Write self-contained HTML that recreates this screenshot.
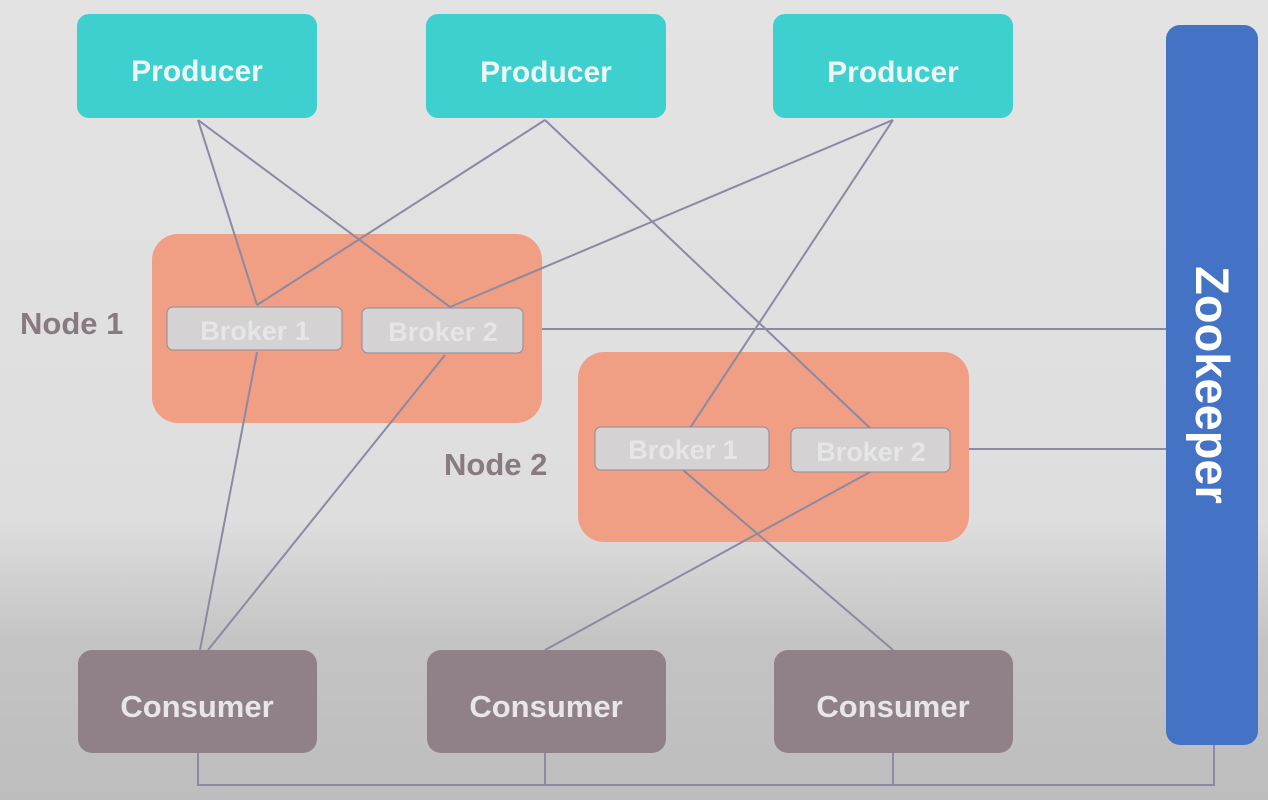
<!DOCTYPE html>
<html><head><style>
body{margin:0;width:1268px;height:800px;overflow:hidden;background:linear-gradient(#e3e3e3 0,#dedede 520px,#c4c4c4 640px,#bdbdbd 800px);}
svg{display:block}
text{font-family:"Liberation Sans",sans-serif;font-weight:bold}
</style></head><body>
<svg width="1268" height="800" viewBox="0 0 1268 800">
<rect x="152" y="234" width="390" height="189" rx="26" fill="#f09e84"/>
<rect x="578" y="352" width="391" height="190" rx="26" fill="#f09e84"/>
<g stroke="#8a8aa2" stroke-width="2" fill="none">
<line x1="198" y1="120" x2="257" y2="305"/>
<line x1="198" y1="120" x2="450" y2="307"/>
<line x1="545" y1="120" x2="257" y2="305"/>
<line x1="545" y1="120" x2="870" y2="428"/>
<line x1="893" y1="120" x2="450" y2="307"/>
<line x1="893" y1="120" x2="690" y2="428"/>
<line x1="257" y1="352" x2="200" y2="650"/>
<line x1="445" y1="355" x2="208" y2="650"/>
<line x1="683" y1="470" x2="893" y2="650"/>
<line x1="870" y1="472" x2="545" y2="650"/>
<line x1="542" y1="329" x2="1166" y2="329"/>
<line x1="969" y1="449" x2="1166" y2="449"/>
<polyline points="198,753 198,785 1214,785 1214,745"/>
<line x1="545" y1="753" x2="545" y2="785"/>
<line x1="893" y1="753" x2="893" y2="785"/>
</g>
<g fill="#3ecfcf">
<rect x="77" y="14" width="240" height="104" rx="12"/>
<rect x="426" y="14" width="240" height="104" rx="12"/>
<rect x="773" y="14" width="240" height="104" rx="12"/>
</g>
<g fill="#eef5f5" font-size="30" text-anchor="middle">
<text x="197" y="81">Producer</text>
<text x="546" y="82">Producer</text>
<text x="893" y="82">Producer</text>
</g>
<g fill="#d4d2d2" stroke="#8c8c9c" stroke-width="1">
<rect x="167" y="307" width="175" height="43" rx="6"/>
<rect x="362" y="308" width="161" height="45" rx="6"/>
<rect x="595" y="427" width="174" height="43" rx="6"/>
<rect x="791" y="428" width="159" height="44" rx="6"/>
</g>
<g fill="#e6e6e6" font-size="27" text-anchor="middle">
<text x="255" y="340">Broker 1</text>
<text x="443" y="341">Broker 2</text>
<text x="683" y="459">Broker 1</text>
<text x="871" y="461">Broker 2</text>
</g>
<g fill="#8f8187">
<rect x="78" y="650" width="239" height="103" rx="14"/>
<rect x="427" y="650" width="239" height="103" rx="14"/>
<rect x="774" y="650" width="239" height="103" rx="14"/>
</g>
<g fill="#e8e6e8" font-size="31" text-anchor="middle">
<text x="197" y="717">Consumer</text>
<text x="546" y="717">Consumer</text>
<text x="893" y="717">Consumer</text>
</g>
<g fill="#877a80" font-size="31">
<text x="20" y="334">Node 1</text>
<text x="444" y="475">Node 2</text>
</g>
<rect x="1166" y="25" width="92" height="720" rx="14" fill="#4472c4"/>
<text x="1212" y="385" fill="#ffffff" font-size="47" text-anchor="middle" transform="rotate(90 1212 385)" dy="16">Zookeeper</text>
</svg>
</body></html>
